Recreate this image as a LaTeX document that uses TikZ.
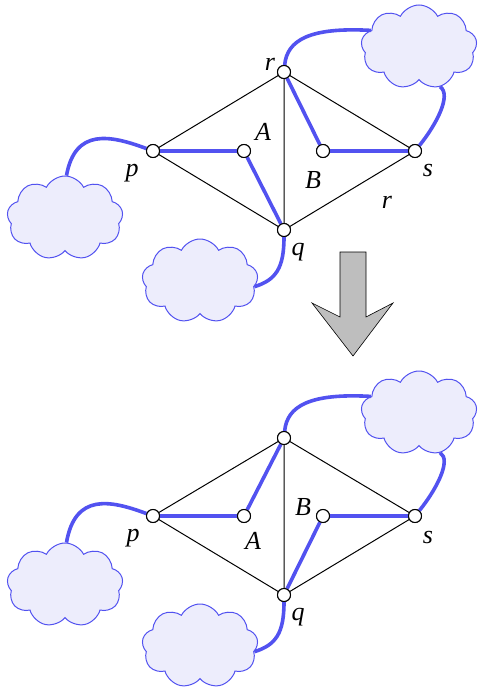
\documentclass[tikz,border=0pt]{standalone}
\usepackage{fontspec}
\setmainfont{Liberation Serif}
\usetikzlibrary{shapes.symbols}
\definecolor{bluline}{RGB}{82,82,240}
\definecolor{lav}{RGB}{237,237,252}
\definecolor{arrgray}{RGB}{190,190,190}
\tikzset{
  vtx/.style={circle,draw=black,fill=white,inner sep=0pt,minimum size=13pt,line width=1pt},
  blk/.style={draw=black,line width=1pt},
  blu/.style={draw=bluline,line width=3.6pt},
  cld/.style={cloud,cloud puffs=9,cloud puff arc=125,aspect=1.4,draw=bluline,fill=lav,line width=1pt,minimum width=116pt,minimum height=84pt,inner sep=0pt},
  lbl/.style={font=\fontsize{26pt}{26pt}\selectfont\itshape,inner sep=0pt},
}
\begin{document}
\begin{tikzpicture}[x=1pt,y=-1pt]
\useasboundingbox (0,0) rectangle (479,696);
% ---------- top graph ----------
\node[cld,shape border rotate=8] (c1) at (419,47) {};
\node[cld,shape border rotate=-10] (c2) at (65,218) {};
\node[cld,shape border rotate=12] (c3) at (200,281) {};
\node[vtx] (r) at (284,72) {};
\node[vtx] (p) at (153,151) {};
\node[vtx] (A) at (244,151) {};
\node[vtx] (B) at (323,151) {};
\node[vtx] (s) at (415,151) {};
\node[vtx] (q) at (284,230) {};
\draw[blu] (r) .. controls (287,40) and (310,27) .. (c1.161);
\draw[blu] (s) .. controls (436,125) and (452,95) .. (c1.-62);
\draw[blu] (p) .. controls (110,135) and (75,128) .. (c2.88);
\draw[blu] (q) .. controls (284,268) and (276,280) .. (c3.-6);
\draw[blk] (r) -- (p) (p) -- (q) (q) -- (s) (s) -- (r) (r) -- (q);
\draw[blu] (p) -- (A) (A) -- (q) (r) -- (B) (B) -- (s);
\foreach \n in {r,p,A,B,s,q} \node[vtx] at (\n) {};
\node[lbl] (lr) at (270,64) {r};
\node[lbl] (lA) at (263,132) {A};
\node[lbl] (lp) at (132,173) {p};
\node[lbl] (lB) at (313,180) {B};
\node[lbl] (ls) at (428,170) {s};
\node[lbl] (lr2) at (387,202) {r};
\node[lbl] (lq) at (298,252) {q};
% ---------- arrow ----------
\draw[fill=arrgray,line width=0.6pt] (340,252) -- (366,252) -- (366,317) -- (393,303) -- (353,356) -- (312,303) -- (340,317) -- cycle;
% ---------- bottom graph ----------
\node[cld,shape border rotate=8] (d1) at (419,413) {};
\node[cld,shape border rotate=-10] (d2) at (65,585) {};
\node[cld,shape border rotate=12] (d3) at (200,646) {};
\node[vtx] (r2) at (284,438) {};
\node[vtx] (p2) at (153,516) {};
\node[vtx] (A2) at (244,516) {};
\node[vtx] (B2) at (323,516) {};
\node[vtx] (s2) at (415,516) {};
\node[vtx] (q2) at (284,595) {};
\draw[blu] (r2) .. controls (287,406) and (310,393) .. (d1.161);
\draw[blu] (s2) .. controls (436,490) and (452,460) .. (d1.-62);
\draw[blu] (p2) .. controls (110,500) and (75,493) .. (d2.88);
\draw[blu] (q2) .. controls (284,633) and (276,645) .. (d3.-6);
\draw[blk] (r2) -- (p2) (p2) -- (q2) (q2) -- (s2) (s2) -- (r2) (r2) -- (q2);
\draw[blu] (p2) -- (A2) (A2) -- (r2) (B2) -- (s2) (B2) -- (q2);
\foreach \n in {r2,p2,A2,B2,s2,q2} \node[vtx] at (\n) {};
\node[lbl] (mp) at (133,538) {p};
\node[lbl] (mA) at (253,541) {A};
\node[lbl] (mB) at (303,507) {B};
\node[lbl] (ms) at (428,537) {s};
\node[lbl] (mq) at (298,617) {q};
\end{tikzpicture}
\end{document}
